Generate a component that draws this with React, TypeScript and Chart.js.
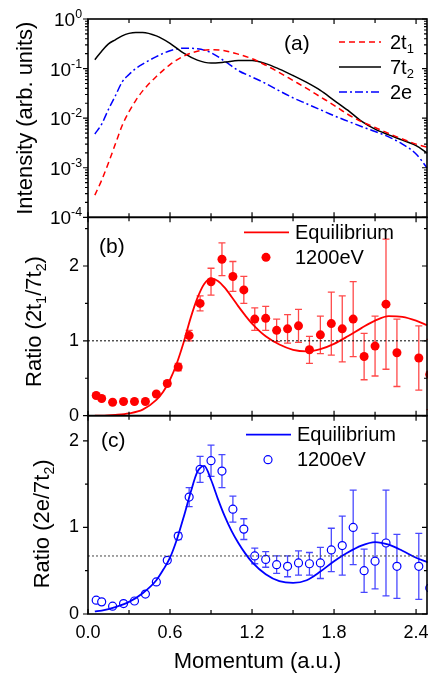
import React, { useEffect, useRef } from 'react';
import { Chart, registerables } from 'chart.js';

Chart.register(...registerables);

const FONT = '"Liberation Sans", Arial, Helvetica, sans-serif';

// ---------- Panel (a): intensity curves ----------
const curveMomentum = [0.05, 0.1, 0.15, 0.2, 0.25, 0.3, 0.35, 0.4, 0.5, 0.6, 0.7, 0.8, 0.9, 1.0, 1.1, 1.2, 1.3, 1.4, 1.5, 1.6, 1.7, 1.8, 1.9, 2.0, 2.1, 2.2, 2.3, 2.4, 2.48];
const intensity2t1 = [0.00028, 0.00056, 0.00126, 0.003, 0.0071, 0.0135, 0.0229, 0.0355, 0.0692, 0.12, 0.178, 0.224, 0.24, 0.229, 0.195, 0.158, 0.117, 0.083, 0.0575, 0.0398, 0.0269, 0.0182, 0.012, 0.0085, 0.0065, 0.0049, 0.0038, 0.003, 0.0026];
const intensity7t2 = [0.151, 0.224, 0.316, 0.38, 0.457, 0.513, 0.537, 0.537, 0.457, 0.324, 0.204, 0.148, 0.129, 0.135, 0.145, 0.145, 0.126, 0.0977, 0.0724, 0.0525, 0.0363, 0.0229, 0.0145, 0.0087, 0.006, 0.0046, 0.0036, 0.0028, 0.002];
const intensity2e = [0.0048, 0.0076, 0.0151, 0.0282, 0.0537, 0.0759, 0.1, 0.123, 0.174, 0.229, 0.257, 0.251, 0.209, 0.141, 0.091, 0.0676, 0.0501, 0.0355, 0.0257, 0.0195, 0.0148, 0.0112, 0.0087, 0.0068, 0.0054, 0.0042, 0.003, 0.0019, 0.001];

// ---------- Panels (b), (c): equilibrium curves ----------
const eqMomentum = [0.05, 0.1, 0.2, 0.3, 0.4, 0.5, 0.55, 0.6, 0.65, 0.7, 0.75, 0.8, 0.85, 0.9, 0.95, 1.0, 1.05, 1.1, 1.15, 1.2, 1.3, 1.4, 1.5, 1.6, 1.7, 1.8, 1.9, 2.0, 2.1, 2.2, 2.3, 2.4, 2.48];
const eqRatioB = [0.0, 0.0, 0.01, 0.03, 0.08, 0.21, 0.32, 0.48, 0.7, 0.98, 1.3, 1.57, 1.76, 1.83, 1.8, 1.71, 1.59, 1.46, 1.34, 1.23, 1.06, 0.95, 0.88, 0.86, 0.89, 0.96, 1.06, 1.17, 1.27, 1.33, 1.32, 1.27, 1.21];
const eqRatioC = [0.03, 0.04, 0.08, 0.14, 0.24, 0.39, 0.51, 0.65, 0.86, 1.12, 1.4, 1.64, 1.71, 1.55, 1.33, 1.13, 0.96, 0.82, 0.7, 0.6, 0.46, 0.38, 0.36, 0.39, 0.49, 0.61, 0.71, 0.79, 0.83, 0.8, 0.73, 0.65, 0.6];

// ---------- Panels (b), (c): 1200 eV measurements ----------
const expMomentum = [0.06, 0.1, 0.18, 0.26, 0.34, 0.42, 0.5, 0.58, 0.66, 0.74, 0.82, 0.9, 0.98, 1.06, 1.14, 1.22, 1.3, 1.38, 1.46, 1.54, 1.62, 1.7, 1.78, 1.86, 1.94, 2.02, 2.1, 2.18, 2.26, 2.34, 2.42, 2.5];
const expRatioB = [0.27, 0.23, 0.18, 0.19, 0.19, 0.19, 0.29, 0.43, 0.65, 1.07, 1.5, 1.79, 2.09, 1.86, 1.68, 1.29, 1.3, 1.14, 1.16, 1.2, 0.88, 1.08, 1.23, 1.16, 1.29, 0.79, 0.93, 1.49, 0.84, 2.78, 0.77, 0.55];
const expErrB = [0.02, 0.02, 0.02, 0.02, 0.02, 0.02, 0.02, 0.03, 0.05, 0.07, 0.1, 0.18, 0.22, 0.2, 0.18, 0.15, 0.16, 0.15, 0.19, 0.22, 0.18, 0.25, 0.42, 0.44, 0.5, 0.31, 0.4, 0.87, 0.45, 0.13, 0.43, 0.47];
const expRatioC = [0.16, 0.14, 0.09, 0.12, 0.15, 0.23, 0.37, 0.62, 0.9, 1.35, 1.67, 1.77, 1.65, 1.21, 0.98, 0.67, 0.63, 0.57, 0.55, 0.59, 0.58, 0.59, 0.74, 0.79, 1.0, 0.5, 0.61, 0.82, 0.55, null, 0.55, 0.3];
const expErrC = [0.02, 0.02, 0.02, 0.02, 0.02, 0.02, 0.02, 0.02, 0.04, 0.11, 0.15, 0.18, 0.19, 0.15, 0.12, 0.09, 0.09, 0.1, 0.12, 0.14, 0.13, 0.18, 0.25, 0.34, 0.43, 0.25, 0.32, 0.61, 0.37, null, 0.38, 0.3];

const refRatioB = 1.0;
const refRatioC = 0.67;

// ---------- Axes ----------
const xRange = [0, 2.48];
const xTickValues = [0, 0.3, 0.6, 0.9, 1.2, 1.5, 1.8, 2.1, 2.4];
const xLabelValues = [0, 0.6, 1.2, 1.8, 2.4];
const xLabels = ['0.0', '0.6', '1.2', '1.8', '2.4'];
const logRange = [1e-4, 1];
const logMajor = [1e-4, 1e-3, 1e-2, 1e-1, 1];
const logExponents = ['-4', '-3', '-2', '-1', '0'];
const ratioBRange = [0, 2.65];
const ratioCRange = [0, 2.29];
const ratioLabelValues = [0, 1, 2];
const ratioBMinor = [0.5, 1.5, 2.5];
const ratioCMinor = [0.5, 1.5];

const RED = '#ff0000';
const BLUE = '#0000ff';

type Part = { t: string; sub?: boolean; sup?: boolean };

function richWidth(ctx: CanvasRenderingContext2D, parts: Part[], size: number) {
  let w = 0;
  for (const p of parts) {
    ctx.font = `${p.sub || p.sup ? size * 0.65 : size}px ${FONT}`;
    w += ctx.measureText(p.t).width;
  }
  return w;
}

function drawRich(ctx: CanvasRenderingContext2D, parts: Part[], x: number, y: number, size: number) {
  let cx = x;
  ctx.textBaseline = 'alphabetic';
  ctx.textAlign = 'left';
  for (const p of parts) {
    const s = p.sub || p.sup ? size * 0.65 : size;
    ctx.font = `${s}px ${FONT}`;
    const dy = p.sub ? size * 0.22 : p.sup ? -size * 0.42 : 0;
    ctx.fillText(p.t, cx, y + dy);
    cx += ctx.measureText(p.t).width;
  }
}

function drawRotatedTitle(ctx: CanvasRenderingContext2D, parts: Part[], cx: number, cy: number, size: number) {
  ctx.save();
  ctx.translate(cx, cy);
  ctx.rotate(-Math.PI / 2);
  const w = richWidth(ctx, parts, size);
  drawRich(ctx, parts, -w / 2, size * 0.36, size);
  ctx.restore();
}

const figurePlugin = {
  id: 'figure',
  beforeDatasetDraw(chart: any, args: any) {
    const ds = chart.data.datasets[args.index];
    const scale = chart.scales[ds.yAxisID];
    const ctx = chart.ctx;
    ctx.save();
    ctx.beginPath();
    ctx.rect(chart.chartArea.left, scale.top, chart.width - chart.chartArea.left, scale.bottom - scale.top);
    ctx.clip();
    if (ds.errors) {
      const meta = chart.getDatasetMeta(args.index);
      ctx.strokeStyle = ds.errorColor;
      ctx.lineWidth = 1.3;
      meta.data.forEach((el: any, i: number) => {
        const raw = ds.data[i];
        const e = raw.err;
        if (!e) return;
        const yt = scale.getPixelForValue(raw.y + e);
        const yb = scale.getPixelForValue(raw.y - e);
        const x = el.x;
        ctx.beginPath();
        ctx.moveTo(x, yt);
        ctx.lineTo(x, yb);
        ctx.moveTo(x - 3.5, yt);
        ctx.lineTo(x + 3.5, yt);
        ctx.moveTo(x - 3.5, yb);
        ctx.lineTo(x + 3.5, yb);
        ctx.stroke();
      });
    }
  },
  afterDatasetDraw(chart: any) {
    chart.ctx.restore();
  },
  afterDraw(chart: any) {
    const ctx: CanvasRenderingContext2D = chart.ctx;
    const { left, right } = chart.chartArea;
    const xs = chart.scales.x;
    const panels = [chart.scales.ya, chart.scales.yb, chart.scales.yc];
    ctx.save();
    ctx.strokeStyle = '#000';
    ctx.lineWidth = 1.6;
    for (const p of panels) {
      ctx.strokeRect(left, p.top, right - left, p.bottom - p.top);
    }
    ctx.lineWidth = 1.2;
    for (const p of panels) {
      for (const v of xTickValues) {
        const x = xs.getPixelForValue(v);
        const len = xLabelValues.includes(v) ? 5 : 4;
        ctx.beginPath();
        ctx.moveTo(x, p.bottom);
        ctx.lineTo(x, p.bottom - len);
        ctx.moveTo(x, p.top);
        ctx.lineTo(x, p.top + len);
        ctx.stroke();
      }
    }
    const yTick = (p: any, v: number, len: number) => {
      const y = p.getPixelForValue(v);
      ctx.beginPath();
      ctx.moveTo(left, y);
      ctx.lineTo(left - len, y);
      ctx.moveTo(right, y);
      ctx.lineTo(right - len, y);
      ctx.stroke();
    };
    const ya = panels[0];
    logMajor.forEach((v) => yTick(ya, v, 5));
    logMajor.slice(0, -1).forEach((v) => {
      for (let k = 2; k <= 9; k++) yTick(ya, v * k, 3);
    });
    ratioLabelValues.forEach((v) => yTick(panels[1], v, 5));
    ratioBMinor.forEach((v) => yTick(panels[1], v, 3));
    ratioLabelValues.forEach((v) => yTick(panels[2], v, 5));
    ratioCMinor.forEach((v) => yTick(panels[2], v, 3));

    ctx.fillStyle = '#000';
    ctx.font = `18px ${FONT}`;
    ctx.textAlign = 'center';
    ctx.textBaseline = 'middle';
    xLabelValues.forEach((v, i) => {
      ctx.fillText(xLabels[i], xs.getPixelForValue(v), panels[2].bottom + 19);
    });
    logMajor.forEach((v, i) => {
      const y = ya.getPixelForValue(v);
      const parts: Part[] = [{ t: '10' }, { t: logExponents[i], sup: true }];
      const w = richWidth(ctx, parts, 19);
      drawRich(ctx, parts, left - 6 - w, y + 7, 19);
    });

    drawRotatedTitle(ctx, [{ t: 'Intensity (arb. units)' }], 24, (ya.top + ya.bottom) / 2, 22);
    drawRotatedTitle(
      ctx,
      [{ t: 'Ratio (2t' }, { t: '1', sub: true }, { t: '/7t' }, { t: '2', sub: true }, { t: ')' }],
      33,
      (panels[1].top + panels[1].bottom) / 2 + 5,
      22
    );
    drawRotatedTitle(
      ctx,
      [{ t: 'Ratio (2e/7t' }, { t: '2', sub: true }, { t: ')' }],
      41,
      (panels[2].top + panels[2].bottom) / 2 + 9,
      22
    );
    ctx.font = `22px ${FONT}`;
    ctx.textAlign = 'center';
    ctx.textBaseline = 'alphabetic';
    ctx.fillText('Momentum (a.u.)', (left + right) / 2, 668);

    ctx.font = `21px ${FONT}`;
    ctx.textAlign = 'left';
    ctx.textBaseline = 'middle';
    ctx.fillText('(a)', 284, ya.top + 25);
    ctx.fillText('(b)', 99, panels[1].top + 30);
    ctx.fillText('(c)', 101, panels[2].top + 26);

    const legA = [
      { parts: [{ t: '2t' }, { t: '1', sub: true }], color: RED, dash: [6, 4] },
      { parts: [{ t: '7t' }, { t: '2', sub: true }], color: '#000', dash: [] },
      { parts: [{ t: '2e' }], color: BLUE, dash: [8, 3, 2, 3] },
    ];
    legA.forEach((l, i) => {
      const y = ya.top + 23 + i * 25;
      ctx.strokeStyle = l.color;
      ctx.lineWidth = 1.5;
      ctx.setLineDash(l.dash);
      ctx.beginPath();
      ctx.moveTo(339, y);
      ctx.lineTo(381, y);
      ctx.stroke();
      ctx.setLineDash([]);
      ctx.fillStyle = '#000';
      drawRich(ctx, l.parts as Part[], 390, y + 7, 20);
    });

    const legBC = [
      { p: panels[1], color: RED, filled: true, x0: 244, dy: 15 },
      { p: panels[2], color: BLUE, filled: false, x0: 246, dy: 19 },
    ];
    legBC.forEach((l) => {
      const y1 = l.p.top + l.dy;
      const y2 = y1 + 25;
      ctx.strokeStyle = l.color;
      ctx.lineWidth = 1.8;
      ctx.beginPath();
      ctx.moveTo(l.x0, y1);
      ctx.lineTo(l.x0 + 45, y1);
      ctx.stroke();
      ctx.beginPath();
      ctx.arc(l.x0 + 22, y2, l.filled ? 4.5 : 4, 0, Math.PI * 2);
      if (l.filled) {
        ctx.fillStyle = l.color;
        ctx.fill();
      } else {
        ctx.lineWidth = 1.2;
        ctx.stroke();
      }
      ctx.fillStyle = '#000';
      ctx.font = `20px ${FONT}`;
      ctx.textAlign = 'left';
      ctx.textBaseline = 'middle';
      ctx.fillText('Equilibrium', l.x0 + 51, y1 + 1);
      ctx.fillText('1200eV', l.x0 + 51, y2 + 1);
    });
    ctx.restore();
  },
};

function pts(xs: number[], ys: (number | null)[], errs?: (number | null)[]) {
  const out: any[] = [];
  xs.forEach((x, i) => {
    const y = ys[i];
    if (y === null || y === undefined) return;
    out.push({ x, y, err: errs ? errs[i] : undefined });
  });
  return out;
}

export default function App() {
  const ref = useRef<HTMLCanvasElement>(null);
  useEffect(() => {
    if (!ref.current) return;
    const lineBase = { type: 'line', pointRadius: 0, fill: false, cubicInterpolationMode: 'monotone', clip: false };
    const chart = new Chart(ref.current, {
      type: 'line',
      data: {
        datasets: [
          { ...lineBase, yAxisID: 'ya', data: pts(curveMomentum, intensity2t1), borderColor: RED, borderWidth: 1.5, borderDash: [6, 4] },
          { ...lineBase, yAxisID: 'ya', data: pts(curveMomentum, intensity7t2), borderColor: '#000', borderWidth: 1.5 },
          { ...lineBase, yAxisID: 'ya', data: pts(curveMomentum, intensity2e), borderColor: BLUE, borderWidth: 1.5, borderDash: [8, 3, 2, 3] },
          { ...lineBase, yAxisID: 'yb', data: pts(xRange, [refRatioB, refRatioB]), borderColor: '#000', borderWidth: 1, borderDash: [2, 2] },
          { ...lineBase, yAxisID: 'yb', data: pts(eqMomentum, eqRatioB), borderColor: RED, borderWidth: 1.8 },
          {
            type: 'scatter', yAxisID: 'yb', data: pts(expMomentum, expRatioB, expErrB), showLine: false, clip: false,
            pointRadius: 4.5, pointBackgroundColor: RED, pointBorderColor: RED, pointBorderWidth: 0,
            errors: true, errorColor: 'rgba(255,40,40,0.85)',
          },
          { ...lineBase, yAxisID: 'yc', data: pts(xRange, [refRatioC, refRatioC]), borderColor: '#444', borderWidth: 1, borderDash: [2, 2] },
          { ...lineBase, yAxisID: 'yc', data: pts(eqMomentum, eqRatioC), borderColor: BLUE, borderWidth: 1.8 },
          {
            type: 'scatter', yAxisID: 'yc', data: pts(expMomentum, expRatioC, expErrC), showLine: false, clip: false,
            pointRadius: 4, pointBackgroundColor: '#fff', pointBorderColor: BLUE, pointBorderWidth: 1.2,
            errors: true, errorColor: 'rgba(40,40,255,0.85)',
          },
        ] as any,
      },
      options: {
        responsive: false,
        animation: false,
        devicePixelRatio: 1,
        layout: { autoPadding: false, padding: { top: 19, right: 1, left: 0, bottom: 0 } },
        plugins: { legend: { display: false }, tooltip: { enabled: false }, title: { display: false } },
        scales: {
          x: {
            type: 'linear', min: xRange[0], max: xRange[1], position: 'bottom',
            grid: { display: false, drawTicks: false }, border: { display: false },
            afterFit: (s: any) => { s.height = 59; s.paddingLeft = 0; s.paddingRight = 0; },
            ticks: { display: false },
          },
          yc: {
            type: 'linear', min: ratioCRange[0], max: ratioCRange[1], position: 'left', stack: 'panels', stackWeight: 1,
            grid: { display: false, drawTicks: false }, border: { display: false },
            afterBuildTicks: (s: any) => { s.ticks = ratioLabelValues.map((v) => ({ value: v })); },
            afterFit: (s: any) => { s.width = 88; s.paddingTop = 0; s.paddingBottom = 0; },
            ticks: { color: '#000', font: { family: FONT, size: 18 }, padding: 9, callback: (v: any) => String(v) },
          },
          yb: {
            type: 'linear', min: ratioBRange[0], max: ratioBRange[1], position: 'left', stack: 'panels', stackWeight: 1,
            grid: { display: false, drawTicks: false }, border: { display: false },
            afterBuildTicks: (s: any) => { s.ticks = ratioLabelValues.map((v) => ({ value: v })); },
            afterFit: (s: any) => { s.width = 88; s.paddingTop = 0; s.paddingBottom = 0; },
            ticks: { color: '#000', font: { family: FONT, size: 18 }, padding: 9, callback: (v: any) => String(v) },
          },
          ya: {
            type: 'logarithmic', min: logRange[0], max: logRange[1], position: 'left', stack: 'panels', stackWeight: 1,
            grid: { display: false, drawTicks: false }, border: { display: false },
            afterFit: (s: any) => { s.width = 88; s.paddingTop = 0; s.paddingBottom = 0; },
            ticks: { display: false },
          },
        } as any,
      },
      plugins: [figurePlugin as any],
    });
    return () => chart.destroy();
  }, []);
  return (
    <div style={{ position: 'fixed', left: 0, top: 0, width: 428, height: 673, background: '#fff' }}>
      <canvas ref={ref} width={428} height={673} style={{ display: 'block' }} />
    </div>
  );
}
